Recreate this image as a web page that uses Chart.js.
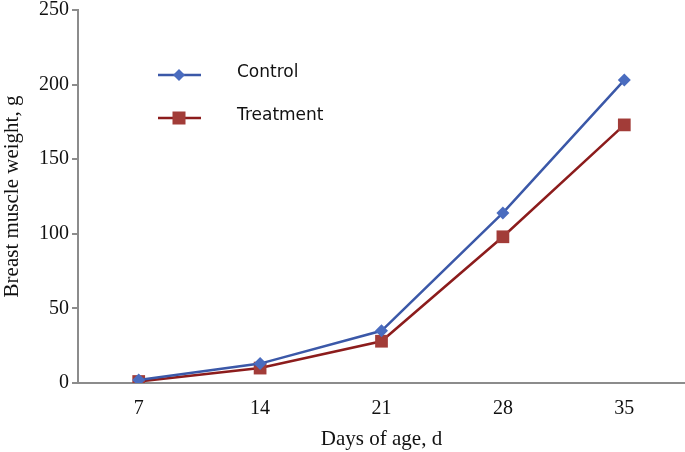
<!DOCTYPE html>
<html>
<head>
<meta charset="utf-8">
<script src="https://cdn.jsdelivr.net/npm/chart.js@4/dist/chart.umd.min.js"></script>
<style>
  html, body { margin: 0; padding: 0; background: #fff; }
  #wrap { width: 685px; height: 452px; position: relative; }
</style>
</head>
<body>
<div id="wrap"><canvas id="chart" width="685" height="452"></canvas></div>
<script>
// ---------- Data ----------
const days = ["7", "14", "21", "28", "35"];
const controlWeights = [2, 13, 35, 114, 203];
const treatmentWeights = [1, 10, 28, 98, 173];
const yTicks = [0, 50, 100, 150, 200, 250];

const BLUE_LINE = "#3b58a8";
const BLUE_MARK = "#4a6cbf";
const RED_LINE = "#8c1c1c";
const RED_MARK = "#a23c38";
const SERIF = "'Liberation Serif', 'DejaVu Serif', serif";
const SANS = "'DejaVu Sans', 'Liberation Sans', sans-serif";

// ---------- Legend drawn inside the plot ----------
const insideLegend = {
  id: "insideLegend",
  afterDraw(chart) {
    const ctx = chart.ctx;
    const rows = [
      { y: 75, ds: chart.data.datasets[0], s: 6 },
      { y: 118, ds: chart.data.datasets[1], s: 6.5 },
    ];
    ctx.save();
    rows.forEach((r) => {
      ctx.strokeStyle = r.ds.borderColor;
      ctx.lineWidth = 2.5;
      ctx.beginPath();
      ctx.moveTo(158, r.y);
      ctx.lineTo(201, r.y);
      ctx.stroke();
      ctx.fillStyle = r.ds.pointBackgroundColor;
      const s = r.s;
      if (r.ds.pointStyle === "rectRot") {
        ctx.beginPath();
        ctx.moveTo(179, r.y - s);
        ctx.lineTo(179 + s, r.y);
        ctx.lineTo(179, r.y + s);
        ctx.lineTo(179 - s, r.y);
        ctx.closePath();
        ctx.fill();
      } else {
        ctx.fillRect(179 - s, r.y - s, s * 2, s * 2);
      }
      ctx.fillStyle = "#111";
      ctx.font = "17px " + SANS;
      ctx.textBaseline = "middle";
      ctx.fillText(r.ds.label, 237, r.y - 2);
    });
    ctx.restore();
  },
};

// ---------- Chart ----------
new Chart(document.getElementById("chart").getContext("2d"), {
  type: "line",
  data: {
    labels: days,
    datasets: [
      {
        label: "Control",
        data: controlWeights,
        borderColor: BLUE_LINE,
        borderWidth: 2.5,
        pointStyle: "rectRot",
        pointRadius: 6.5,
        pointBackgroundColor: BLUE_MARK,
        pointBorderColor: BLUE_MARK,
        pointBorderWidth: 0,
        tension: 0,
      },
      {
        label: "Treatment",
        data: treatmentWeights,
        borderColor: RED_LINE,
        borderWidth: 2.5,
        pointStyle: "rect",
        pointRadius: 9,
        pointBackgroundColor: RED_MARK,
        pointBorderColor: RED_MARK,
        pointBorderWidth: 0,
        tension: 0,
      },
    ],
  },
  options: {
    responsive: false,
    animation: false,
    layout: { autoPadding: false, padding: { top: 10, right: 0, left: 0, bottom: 0 } },
    plugins: { legend: { display: false }, tooltip: { enabled: false } },
    scales: {
      x: {
        offset: true,
        grid: { display: false, drawTicks: false },
        border: { color: "#8c8c8c", width: 2 },
        ticks: { color: "#111", font: { family: SERIF, size: 20 }, padding: 14 },
        title: {
          display: true,
          text: "Days of age, d",
          color: "#111",
          font: { family: SERIF, size: 21 },
          padding: { top: 2, bottom: 0 },
        },
        afterFit: (s) => { s.height = 69; s.paddingLeft = 0; s.paddingRight = 0; },
      },
      y: {
        min: 0,
        max: 250,
        afterBuildTicks: (s) => { s.ticks = yTicks.map((v) => ({ value: v })); },
        grid: { display: true, drawOnChartArea: false, drawTicks: true, tickLength: 6, color: "#8c8c8c", lineWidth: 2 },
        border: { color: "#8c8c8c", width: 2 },
        ticks: { color: "#111", font: { family: SERIF, size: 20 }, padding: 3 },
        title: {
          display: true,
          text: "Breast muscle weight, g",
          color: "#111",
          font: { family: SERIF, size: 21 },
          padding: { top: 0, bottom: 0 },
        },
        afterFit: (s) => { s.width = 78; s.paddingTop = 0; s.paddingBottom = 0; },
      },
    },
  },
  plugins: [insideLegend],
});
</script>
</body>
</html>
